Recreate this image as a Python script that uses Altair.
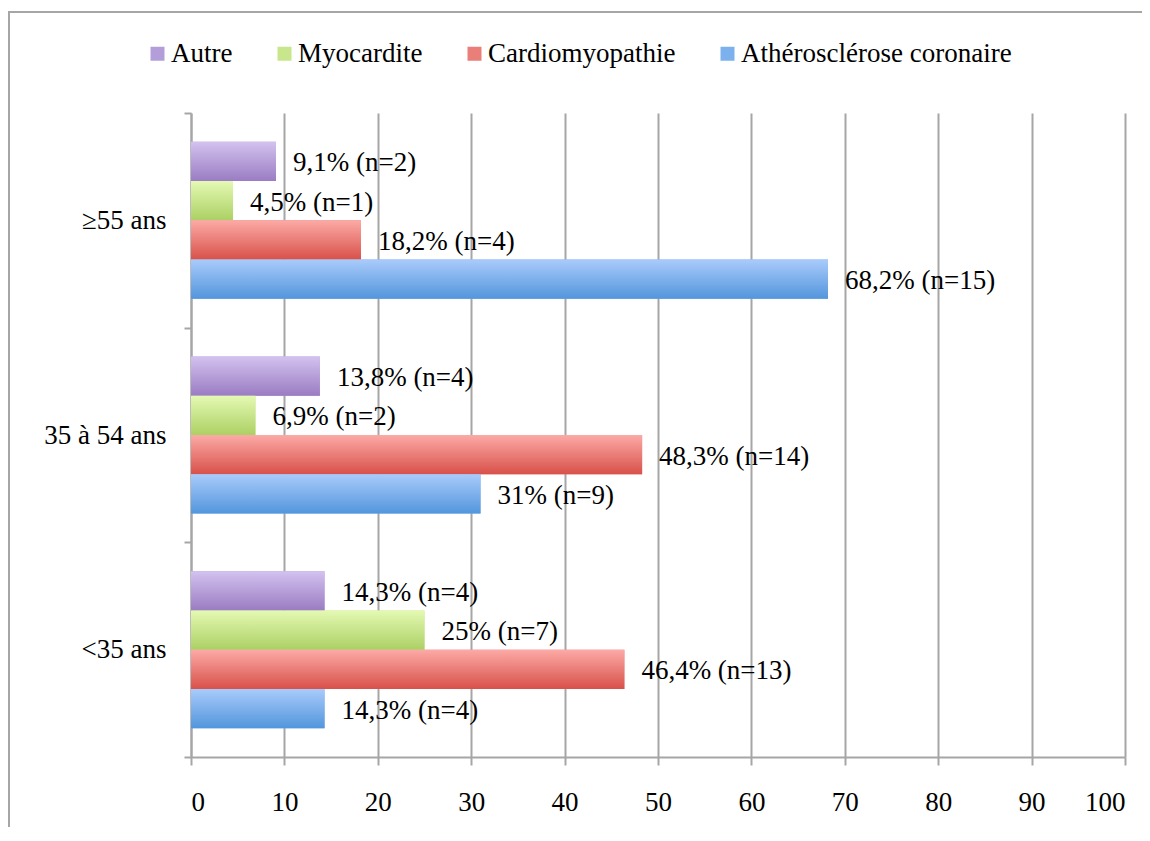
import altair as alt
import pandas as pd

# ---- data ----
ages = ["≥55 ans", "35 à 54 ans", "<35 ans"]
series = ["Autre", "Myocardite", "Cardiomyopathie", "Athérosclérose coronaire"]

pct_55 = [9.1, 4.5, 18.2, 68.2]
n_55 = [2, 1, 4, 15]
pct_35_54 = [13.8, 6.9, 48.3, 31]
n_35_54 = [4, 2, 14, 9]
pct_lt35 = [14.3, 25, 46.4, 14.3]
n_lt35 = [4, 7, 13, 4]

x_ticks = [0, 10, 20, 30, 40, 50, 60, 70, 80, 90, 100]

# colours (top / bottom of gradient, and a mid tone for the legend)
top_colors = ["#d3c2ef", "#e4f9b3", "#fcaaa6", "#a9cbfb"]
bottom_colors = ["#9a7cc2", "#acd064", "#d8514a", "#5396dc"]
mid_colors = ["#b49ed9", "#c8e68c", "#ea7e79", "#7db1ee"]

FONT = "Liberation Serif, Times New Roman, serif"
FS = 27
GRID = "#a6a6a6"


def fmt(v):
    if float(v).is_integer():
        return f"{int(v)}"
    return f"{v:.1f}".replace(".", ",")


rows = []
for age, vals, ns in zip(ages, [pct_55, pct_35_54, pct_lt35], [n_55, n_35_54, n_lt35]):
    for s, v, n in zip(series, vals, ns):
        rows.append({"age": age, "series": s, "value": v, "label": f"{fmt(v)}% (n={n})"})
df = pd.DataFrame(rows)

base = alt.Chart(df).encode(
    y=alt.Y(
        "age:N",
        sort=ages,
        scale=alt.Scale(paddingInner=0, paddingOuter=0),
        axis=alt.Axis(
            title=None,
            tickBand="extent",
            tickSize=7,
            tickColor=GRID,
            tickWidth=2,
            domainColor=GRID,
            domainWidth=2,
            labelFont=FONT,
            labelFontSize=FS,
            labelColor="black",
            labelPadding=18,
            grid=False,
        ),
    ),
    yOffset=alt.YOffset("series:N", sort=series, scale=alt.Scale(paddingInner=0, paddingOuter=0.735)),
    x=alt.X(
        "value:Q",
        scale=alt.Scale(domain=[0, 100], nice=False),
        axis=alt.Axis(
            title=None,
            values=x_ticks,
            grid=True,
            gridColor=GRID,
            gridWidth=2,
            tickSize=8,
            tickColor=GRID,
            tickWidth=2,
            domainColor=GRID,
            domainWidth=2,
            labelFont=FONT,
            labelFontSize=FS,
            labelColor="black",
            labelPadding=24,
        ),
    ),
)

bars = base.mark_bar().encode(
    color=alt.Color(
        "series:N",
        sort=series,
        scale=alt.Scale(domain=series, range=mid_colors),
        legend=alt.Legend(
            title=None,
            orient="none",
            direction="horizontal",
            legendX=-47,
            legendY=-73,
            padding=0,
            symbolType="square",
            symbolSize=196,
            symbolStrokeWidth=0,
            labelFont=FONT,
            labelFontSize=FS,
            labelColor="black",
            labelOffset=0,
            labelLimit=0,
            columnPadding=38,
        ),
    )
)

grad_layers = []
for s, c_top, c_bot in zip(series, top_colors, bottom_colors):
    grad = alt.LinearGradient(
        gradient="linear",
        stops=[alt.GradientStop(color=c_top, offset=0), alt.GradientStop(color=c_bot, offset=1)],
        x1=0, x2=0, y1=0, y2=1,
    )
    grad_layers.append(
        base.transform_filter(alt.datum.series == s).mark_bar(fill=grad)
    )

labels = base.mark_text(
    align="left", baseline="middle", dx=17, dy=2, font=FONT, fontSize=FS, color="black"
).encode(text="label:N")

frame_data = alt.Data(values=[{"k": 0}])
frame_top = alt.Chart(frame_data).mark_rule(color=GRID, strokeWidth=2).encode(
    x=alt.value(-183), x2=alt.value(951), y=alt.value(-101)
)
frame_left = alt.Chart(frame_data).mark_rule(color=GRID, strokeWidth=2).encode(
    x=alt.value(-182), y=alt.value(-102), y2=alt.value(720)
)

chart = (
    alt.layer(bars, *grad_layers, labels, frame_top, frame_left)
    .properties(
        width=934,
        height=644,
        autosize=alt.AutoSizeParams(type="none"),
        padding={"left": 183, "top": 105, "right": 17, "bottom": 70},
    )
    .configure_view(stroke=None)
)

chart.save("out.html", embed_options={"renderer": "svg", "actions": False})
